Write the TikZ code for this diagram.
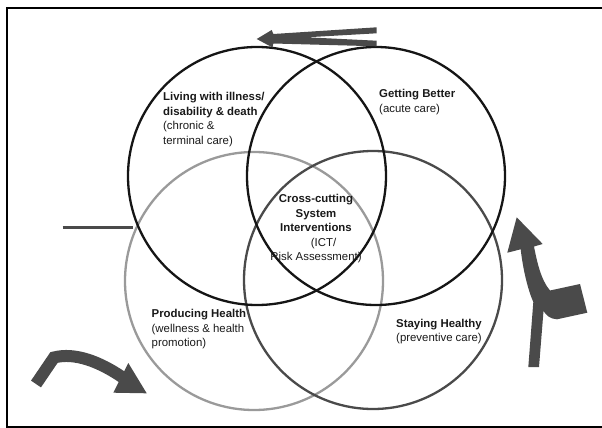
\documentclass[tikz,border=0pt]{standalone}
\usepackage{fontspec}
\setmainfont{Liberation Sans}
\usepackage{tikz}
\usetikzlibrary{positioning}

\definecolor{ringblack}{HTML}{151515}
\definecolor{ringlight}{HTML}{9A9A9A}
\definecolor{ringdark}{HTML}{4A4A4A}
\definecolor{arrowgray}{HTML}{4A4A4A}

\begin{document}
\begin{tikzpicture}[
    x=1pt, y=-1pt,
    ring/.style={circle, draw, line width=2.3pt, minimum size=258pt, inner sep=0pt},
    txt/.style={inner sep=0pt, align=left, font=\fontsize{11.4}{14.4}\selectfont, text=black!90},
    bigarrow/.style={fill=arrowgray, draw=none}
]
\useasboundingbox (0,0) rectangle (602,428);

% frame
\draw[line width=2.4pt, black] (612,8) -- (7,8) -- (7,427) -- (612,427);

% the four circles
\node[ring, draw=ringlight] (producing) at (254,281) {};
\node[ring, draw=ringdark]  (staying)   at (373,280) {};
\node[ring, draw=ringblack] (living)    at (257,176) {};
\node[ring, draw=ringblack] (better)    at (376,176) {};

% circle texts
\node[txt, anchor=north west] (livingtxt) at (163,92.5)
    {\textbf{Living with illness/}\\\textbf{disability \& death}\\(chronic \&\\terminal care)};
\node[txt, anchor=north west] (bettertxt) at (379,89.5)
    {\textbf{Getting Better}\\(acute care)};
\node[txt, anchor=north, align=center] (crosstxt) at (316,194.5)
    {\textbf{Cross-cutting}\\\textbf{System}\\\textbf{Interventions}\\\hspace*{15pt}(ICT/\\Risk Assessment)};
\node[txt, anchor=north west] (producingtxt) at (151.5,309.5)
    {\textbf{Producing Health}\\(wellness \& health\\promotion)};
\node[txt, anchor=north west] (stayingtxt) at (396,319)
    {\textbf{Staying Healthy}\\(preventive care)};

% short stub on the left
\coordinate (stubstart) at (62.5,227.7);
\coordinate (stubend) at (133,227.7);
\draw[line width=3.3pt, arrowgray] (stubstart) -- (stubend);

% top arrow (split tail)
\fill[bigarrow] (256.7,39) -- (271.7,30) -- (273.3,34) -- (376.7,27.3) -- (376.7,33.3)
    -- (306.7,37.3) -- (376.7,40.7) -- (376.7,46.3) -- (273.3,43.5) -- (272.5,47.5) -- cycle;

% bottom left bent arrow
\draw[line width=12pt, arrowgray, line join=miter]
    (36,384) -- (54,357.5) .. controls (75,352) and (100,362) .. (122,377);
\fill[bigarrow] (146.7,393.3) -- (128.3,363) -- (113.3,392.7) -- cycle;

% right forked arrow
\fill[bigarrow] (516.7,217.3) -- (542.7,244) -- (534,246.5)
    .. controls (537,262) and (541,280) .. (550,290.5) -- (580,284) -- (587.3,312.7)
    -- (557,319.3) .. controls (550,319) and (546,315) .. (543.5,311)
    -- (539,367) -- (528.3,367) -- (533.3,302)
    .. controls (528,290) and (523,270) .. (520.7,249.3) -- (507.3,252.7) -- cycle;

\end{tikzpicture}
\end{document}
